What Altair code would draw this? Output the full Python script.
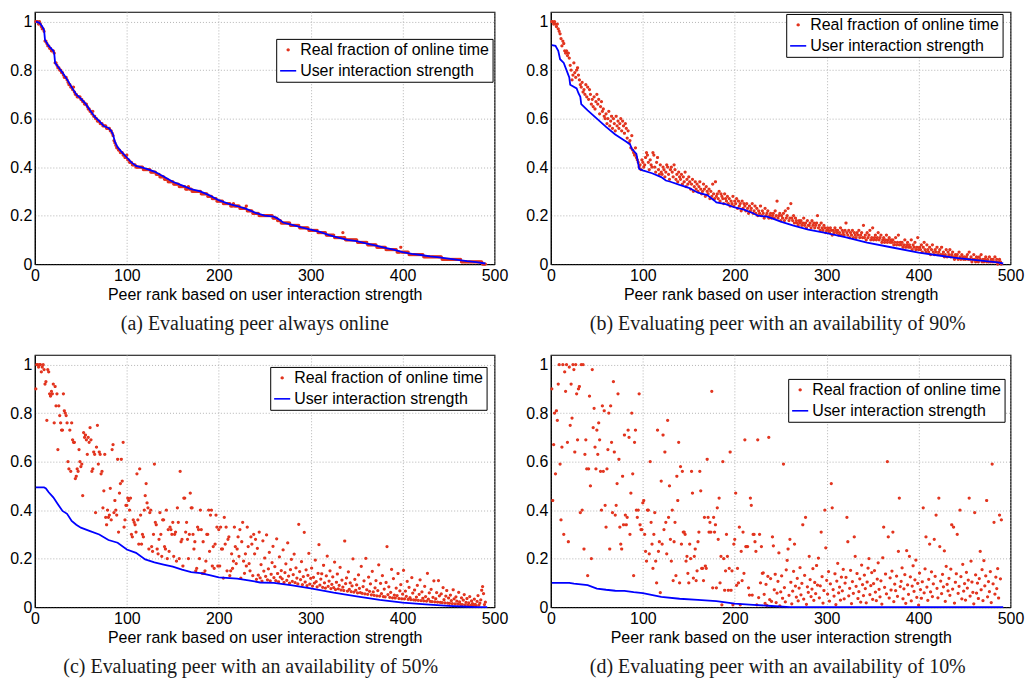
import altair as alt
import pandas as pd

# ---------------- data (values in hundredths for dots, thousandths for lines) ----------------
SERIES = ["Real fraction of online time", "User interaction strength"]
XTICKS = [0, 100, 200, 300, 400, 500]
YTICKS = [0, 0.2, 0.4, 0.6, 0.8, 1]

captions = [
    "(a)  Evaluating peer always online",
    "(b)  Evaluating peer with an availability of 90%",
    "(c)  Evaluating peer with an availability of 50%",
    "(d)  Evaluating peer with an availability of 10%",
]
xtitles = [
    "Peer rank based on user interaction strength",
    "Peer rank based on user interaction strength",
    "Peer rank based on user interaction strength",
    "Peer rank based on the user interaction strength",
]

# (a) always online
real_a = [
    100, 100, 100, 99, 100, 99, 98, 97, 97, 96,
    92, 92, 91, 90, 90, 89, 89, 88, 88, 88,
    87, 83, 83, 82, 81, 81, 80, 80, 79, 79,
    78, 77, 77, 77, 76, 75, 74, 74, 73, 73,
    72, 73, 71, 70, 70, 69, 69, 69, 69, 68,
    68, 67, 67, 66, 66, 66, 65, 64, 64, 63,
    63, 62, 63, 61, 61, 60, 60, 59, 59, 59,
    58, 58, 58, 57, 57, 57, 57, 56, 56, 56,
    56, 55, 55, 54, 53, 51, 50, 49, 48, 48,
    47, 47, 46, 46, 46, 45, 45, 44, 44, 45,
    43, 43, 42, 42, 42, 41, 41, 41, 41, 40,
    40, 40, 40, 40, 40, 40, 40, 39, 39, 39,
    39, 39, 39, 39, 39, 38, 38, 38, 38, 38,
    38, 37, 37, 37, 37, 36, 36, 36, 36, 36,
    35, 35, 35, 35, 34, 34, 34, 34, 34, 34,
    33, 33, 33, 33, 33, 33, 32, 32, 32, 32,
    32, 32, 32, 31, 31, 31, 32, 31, 31, 31,
    30, 30, 30, 30, 30, 30, 30, 30, 30, 30,
    29, 29, 29, 29, 29, 29, 29, 28, 28, 28,
    28, 28, 27, 27, 27, 27, 27, 26, 26, 26,
    26, 26, 26, 26, 25, 25, 25, 25, 25, 25,
    25, 25, 24, 24, 24, 25, 24, 24, 24, 24,
    24, 24, 23, 23, 23, 23, 23, 23, 23, 24,
    22, 22, 22, 22, 22, 22, 21, 21, 21, 21,
    21, 21, 21, 20, 20, 20, 20, 20, 20, 20,
    20, 20, 20, 20, 20, 20, 20, 20, 19, 19,
    19, 19, 19, 18, 18, 18, 18, 17, 17, 17,
    17, 17, 17, 17, 17, 17, 17, 16, 16, 16,
    16, 16, 16, 16, 16, 16, 16, 15, 15, 15,
    15, 15, 15, 15, 15, 15, 15, 14, 14, 14,
    14, 14, 14, 14, 14, 14, 14, 13, 13, 13,
    13, 13, 13, 13, 13, 13, 12, 12, 12, 12,
    12, 12, 12, 12, 12, 11, 11, 11, 11, 11,
    11, 11, 11, 11, 13, 11, 11, 10, 10, 10,
    10, 10, 10, 10, 10, 10, 10, 10, 10, 10,
    9, 9, 9, 9, 9, 9, 9, 9, 9, 9,
    9, 8, 8, 8, 8, 8, 8, 8, 8, 8,
    8, 7, 7, 7, 7, 7, 7, 7, 7, 7,
    7, 6, 6, 6, 6, 6, 6, 6, 6, 6,
    6, 6, 6, 5, 5, 5, 5, 7, 5, 5,
    5, 5, 5, 5, 5, 5, 4, 4, 4, 4,
    4, 4, 4, 4, 4, 4, 4, 4, 4, 4,
    4, 4, 3, 3, 3, 3, 3, 3, 3, 3,
    3, 3, 3, 3, 3, 3, 3, 3, 3, 3,
    3, 3, 2, 2, 2, 2, 2, 2, 2, 2,
    2, 2, 2, 2, 2, 2, 2, 2, 2, 2,
    2, 2, 2, 1, 1, 1, 1, 1, 1, 1,
    1, 1, 1, 1, 1, 1, 1, 1, 1, 1,
    1, 1, 1, 1, 1, 1, 0, 0, 0, 0,
]
line_a_rank = [1, 5, 8, 10, 11, 15, 20, 21, 22, 25, 30, 35, 40, 45, 50, 55, 60, 65, 70, 75,
               80, 83, 85, 87, 90, 95, 100, 105, 110, 120, 130, 140, 150, 160, 170, 180, 190,
               200, 210, 220, 230, 240, 250, 260, 265, 270, 280, 290, 300, 310, 320, 330, 340,
               350, 360, 370, 380, 390, 400, 410, 420, 430, 440, 450, 460, 470, 480, 490]
line_a_val = [1000, 995, 980, 965, 925, 900, 880, 870, 830, 815, 790, 762, 730, 700, 683, 662, 635,
              608, 590, 570, 562, 550, 535, 505, 482, 460, 440, 420, 405, 395, 382, 362, 340, 325,
              310, 300, 284, 264, 250, 240, 228, 212, 200, 196, 186, 172, 162, 152, 143, 133, 120,
              110, 100, 95, 86, 78, 68, 60, 50, 43, 38, 32, 28, 23, 18, 13, 9, 3]

# (b) availability 90%
real_b = [
    100, 100, 99, 100, 99, 98, 99, 97, 96, 95,
    93, 90, 92, 91, 88, 87, 88, 86, 87, 85,
    82, 80, 76, 78, 83, 79, 77, 80, 81, 78,
    76, 74, 73, 75, 71, 72, 70, 74, 69, 73,
    68, 72, 70, 66, 68, 65, 69, 64, 67, 70,
    66, 68, 62, 65, 67, 63, 64, 61, 60, 62,
    58, 60, 63, 57, 59, 61, 56, 60, 58, 55,
    61, 57, 59, 56, 58, 60, 55, 59, 57, 54,
    58, 56, 52, 55, 50, 51, 48, 53, 47, 46,
    45, 48, 44, 43, 42, 40, 41, 39, 43, 42,
    40, 41, 44, 46, 45, 42, 39, 43, 41, 40,
    46, 45, 40, 38, 42, 44, 39, 37, 41, 38,
    37, 40, 39, 36, 38, 41, 40, 37, 35, 39,
    40, 38, 36, 41, 39, 35, 37, 34, 38, 36,
    35, 37, 33, 36, 34, 38, 32, 35, 33, 36,
    34, 31, 33, 35, 30, 32, 34, 31, 33, 30,
    32, 34, 31, 29, 30, 33, 31, 28, 32, 30,
    29, 31, 27, 30, 28, 33, 29, 27, 34, 28,
    29, 27, 30, 26, 29, 28, 27, 25, 29, 27,
    26, 28, 25, 27, 24, 26, 25, 28, 24, 26,
    25, 27, 23, 26, 24, 25, 22, 26, 23, 25,
    24, 22, 25, 23, 21, 24, 22, 23, 25, 21,
    22, 24, 21, 23, 20, 22, 21, 24, 20, 22,
    21, 19, 23, 20, 21, 22, 19, 20, 21, 19,
    20, 21, 19, 22, 20, 26, 19, 20, 21, 18,
    20, 19, 21, 18, 22, 19, 20, 23, 18, 19,
    25, 19, 18, 20, 17, 19, 18, 17, 16, 18,
    17, 18, 16, 17, 19, 16, 17, 15, 18, 16,
    16, 17, 15, 18, 16, 17, 15, 16, 17, 20,
    15, 16, 14, 17, 15, 14, 16, 15, 13, 14,
    15, 14, 13, 15, 14, 12, 14, 13, 15, 14,
    13, 14, 12, 13, 15, 12, 14, 13, 12, 14,
    17, 13, 12, 14, 11, 13, 12, 14, 11, 13,
    12, 11, 13, 12, 14, 11, 12, 13, 11, 16,
    11, 12, 10, 13, 11, 12, 14, 10, 11, 15,
    10, 11, 12, 10, 11, 13, 10, 11, 12, 9,
    10, 11, 9, 10, 12, 9, 10, 11, 9, 10,
    9, 10, 8, 9, 11, 8, 9, 12, 8, 9,
    8, 9, 7, 8, 10, 7, 8, 9, 7, 8,
    7, 10, 6, 8, 7, 9, 6, 7, 11, 6,
    7, 6, 8, 5, 7, 9, 6, 5, 8, 6,
    5, 7, 4, 6, 8, 5, 4, 6, 5, 7,
    4, 5, 6, 4, 7, 4, 5, 3, 4, 6,
    3, 5, 4, 6, 3, 4, 5, 3, 2, 4,
    3, 4, 2, 5, 3, 2, 4, 3, 2, 3,
    2, 3, 4, 2, 5, 2, 3, 1, 2, 4,
    2, 1, 3, 2, 1, 3, 2, 4, 1, 2,
    1, 2, 3, 1, 2, 1, 3, 1, 2, 1,
    2, 1, 3, 1, 2, 0, 1, 2, 1, 0,
]
line_b_rank = [1, 5, 8, 10, 14, 18, 20, 21, 28, 30, 32, 33, 40, 50, 60, 70, 80, 86, 88, 93, 96,
               100, 110, 120, 125, 130, 140, 150, 160, 170, 178, 180, 190, 200, 210, 220, 225,
               235, 240, 250, 264, 280, 300, 320, 344, 370, 400, 420, 438, 460, 486, 492]
line_b_val = [903, 900, 880, 845, 830, 790, 770, 740, 725, 705, 690, 660, 634, 600, 566, 535, 510,
              495, 476, 455, 393, 387, 375, 359, 345, 340, 327, 315, 295, 285, 262, 255, 248, 234,
              225, 210, 200, 196, 190, 176, 159, 143, 128, 112, 89, 70, 48, 37, 27, 18, 8, 3]

# (c) availability 50%
real_c = [
    90, 100, 100, 99, 100, 100, 97, 99, 100, 98,
    92, 93, 77, 98, 97, 88, 87, 89, 88, 92,
    76, 91, 83, 88, 65, 83, 79, 76, 73, 73,
    88, 81, 80, 79, 76, 60, 57, 73, 56, 76,
    69, 68, 68, 53, 54, 57, 56, 65, 60, 58,
    59, 46, 72, 70, 71, 69, 63, 70, 68, 74,
    69, 56, 57, 64, 63, 39, 66, 75, 59, 64,
    63, 55, 56, 41, 48, 63, 37, 34, 40, 37,
    38, 49, 36, 65, 67, 39, 44, 40, 38, 61,
    31, 47, 51, 61, 52, 68, 33, 36, 42, 42,
    45, 44, 40, 45, 30, 29, 36, 35, 34, 31,
    55, 36, 26, 57, 38, 26, 30, 29, 40, 46,
    51, 43, 41, 24, 39, 40, 25, 23, 30, 59,
    35, 34, 24, 22, 28, 39, 30, 21, 36, 36,
    25, 24, 40, 20, 32, 23, 33, 32, 30, 35,
    21, 30, 31, 19, 41, 35, 20, 56, 27, 28,
    17, 45, 45, 31, 35, 28, 20, 30, 47, 41,
    41, 30, 24, 27, 15, 16, 33, 32, 20, 40,
    32, 14, 27, 14, 15, 19, 30, 30, 40, 23,
    38, 40, 17, 25, 16, 26, 38, 33, 17, 32,
    17, 33, 24, 24, 12, 37, 26, 33, 15, 28,
    29, 13, 15, 22, 16, 19, 33, 25, 18, 24,
    29, 21, 32, 12, 27, 35, 19, 14, 22, 17,
    33, 25, 18, 15, 29, 26, 13, 30, 22, 28,
    11.5, 24.3, 13.2, 31.0, 12.1, 17.6, 10.8, 27.4, 14.9, 20.3,
    12.7, 29.8, 11.3, 15.8, 22.6, 10.9, 13.6, 18.4, 25.1, 12.2,
    16.7, 11.0, 28.2, 13.9, 10.5, 20.8, 12.4, 15.1, 11.7, 23.6,
    10.2, 14.3, 17.9, 11.1, 26.5, 12.8, 9.9, 15.5, 19.7, 10.7,
    13.4, 21.9, 10.1, 16.2, 12.0, 9.6, 34.2, 14.7, 11.4, 18.8,
    9.3, 12.6, 30.9, 10.4, 15.4, 8.9, 13.1, 22.2, 9.5, 11.9,
    16.1, 8.7, 12.3, 9.9, 19.4, 10.6, 8.4, 14.0, 25.8, 9.1,
    11.6, 13.8, 8.2, 17.3, 10.0, 7.9, 12.9, 21.1, 8.6, 10.8,
    15.0, 7.7, 9.4, 12.5, 8.1, 18.6, 7.3, 10.3, 13.7, 7.6,
    9.0, 16.4, 7.1, 11.2, 8.3, 6.9, 27.3, 9.7, 12.1, 6.6,
    14.6, 7.4, 10.0, 6.4, 8.8, 19.9, 6.2, 11.5, 7.0, 9.2,
    5.9, 13.3, 7.8, 6.0, 16.8, 5.7, 8.5, 10.9, 5.5, 20.1,
    7.2, 5.3, 12.4, 6.5, 9.6, 5.1, 14.8, 6.3, 4.9, 8.0,
    11.0, 4.7, 6.8, 17.5, 4.6, 9.8, 5.6, 13.0, 4.4, 7.5,
    4.3, 10.2, 25.0, 5.2, 8.4, 4.1, 6.1, 15.6, 3.9, 11.8,
    5.0, 3.8, 7.9, 4.8, 13.9, 3.6, 6.7, 9.3, 3.5, 5.4,
    15.2, 3.4, 6.6, 4.5, 10.7, 3.2, 8.2, 4.0, 3.1, 12.2,
    5.8, 3.0, 7.1, 2.9, 4.2, 9.0, 2.8, 5.3, 11.3, 2.7,
    6.3, 3.7, 2.6, 8.6, 4.4, 2.5, 14.0, 3.3, 5.9, 2.4,
    7.4, 2.3, 4.1, 10.9, 2.2, 3.5, 6.0, 2.1, 11.0, 4.7,
    2.0, 5.5, 1.9, 8.1, 3.1, 1.8, 4.6, 6.9, 1.7, 3.8,
    1.6, 5.0, 2.7, 1.5, 7.2, 3.4, 1.4, 4.3, 2.5, 1.3,
    6.1, 2.2, 1.2, 3.9, 1.1, 2.9, 5.2, 1.0, 2.0, 3.6,
    0.9, 1.8, 4.4, 0.8, 2.6, 1.5, 0.7, 3.3, 1.2, 0.6,
    2.4, 4.8, 0.9, 1.7, 3.0, 7.0, 8.5, 5.6, 1.1, 2.1,
]
line_c_rank = [1, 10, 12, 15, 20, 25, 30, 35, 40, 45, 50, 60, 70, 80, 90, 100, 110, 120, 130,
               140, 150, 160, 170, 180, 190, 200, 220, 234, 245, 260, 280, 300, 325, 350, 375,
               400, 425, 450, 470, 480, 492]
line_c_val = [494, 494, 490, 474, 453, 425, 397, 385, 356, 340, 328, 314, 300, 277, 266, 238, 224,
              197, 185, 176, 167, 155, 145, 141, 132, 123, 118, 110, 102, 100, 90, 78, 60, 45, 30,
              19, 12, 6, 2, 0, 0]

# (d) availability 10%
real_d = [
    90, 44, 67, 80, 55, 81, 77, 92, 100, 59,
    36, 66, 100, 30, 97, 89, 100, 68, 27, 99,
    75, 92, 78, 100, 98, 64, 100, 88, 69, 90,
    91, 39, 100, 40, 100, 24, 63, 69, 57, 13,
    57, 87, 50, 20, 98, 74, 82, 66, 57, 73,
    63, 76, 69, 56, 40, 83, 56, 81, 42, 33,
    57, 65, 80, 24, 83, 68, 39, 93, 64, 38,
    42, 51, 88, 61, 33, 26, 24, 54, 34, 71,
    38, 34, 37, 73, 70, 30, 47, 80, 55, 13,
    68, 73, 40, 37, 40, 88, 34, 32, 32, 43,
    44, 30, 23, 19, 40, 40, 22, 60, 35, 26,
    16, 30, 39, 19, 10, 73, 23, 27, 6, 52,
    26, 71, 32, 64, 35, 22, 77, 37, 50, 28,
    19, 40, 11, 27, 35, 13, 54, 44, 68, 10,
    58, 26, 56, 31, 31, 30, 19, 21, 14, 10,
    26, 20, 56, 47, 12, 21, 24, 11, 15, 27,
    31, 56, 48, 16, 16, 11, 37, 17, 16, 61,
    37, 31, 35, 31, 89, 8, 37, 31, 34, 8,
    41, 28, 45, 10, 21, 1, 60, 20, 7, 15,
    30, 21, 7, 16, 64, 7, 15, 1, 26, 28,
    47, 9, 16, 10, 33, 1, 23, 11, 31, 14,
    69, 25, 25, 25, 8, 5, 45, 42, 5, 30,
    30, 27, 23, 1, 69, 4, 30, 10, 25, 14,
    14.2, 5.3, 1.6, 9.4, 0.8, 12.7, 70, 3.1, 11.8, 2.4,
    29, 25.3, 7.2, 13.6, 1.9, 5.8, 10.7, 22.4, 0.6, 6.3,
    12.9, 3.7, 59, 8.1, 2.2, 15.4, 19.3, 24, 4.9, 28,
    10.3, 1.4, 6.6, 14.8, 26, 8.7, 4.2, 11.9, 2.6, 7.9,
    16.3, 5.1, 9.8, 34, 3.3, 13.1, 37, 1.2, 8.4, 6.1,
    21, 11.4, 4.4, 7.5, 15.9, 2.8, 10.2, 5.6, 17.2, 9.1,
    20.2, 3.9, 8.8, 31, 12.6, 1.7, 6.9, 40, 24.5, 11.1,
    5.4, 14.7, 2.5, 9.6, 51, 41, 7.3, 4.6, 13.8, 1.1,
    10.8, 18.1, 5.9, 8.3, 2.9, 12.4, 6.7, 15.6, 3.4, 9.9,
    12.3, 37, 27, 4.7, 7.8, 15.2, 1.5, 10.6, 5.7, 29,
    21, 8.6, 13.9, 3.6, 6.4, 11.7, 2.1, 17.4, 9.3, 4.8,
    13.2, 7.7, 1.8, 10.4, 16.1, 20, 5.2, 8.9, 14.3, 3.2,
    9.7, 15.1, 6.2, 2.7, 11.6, 18.3, 7.4, 4.3, 10.9, 1.3,
    20.4, 33, 8.2, 13.7, 5.5, 60, 29, 3.8, 12.1, 7.1,
    14.9, 31, 2.3, 9.5, 6.8, 12.8, 4.5, 23, 45, 8.5,
    10.7, 16.2, 3.5, 7.6, 13.4, 1.6, 23.3, 9.2, 5.3, 21,
    12.5, 2.6, 8.7, 17.1, 6.5, 11.3, 19.4, 4.1, 9.8, 0.9,
    14.1, 7.3, 3.7, 10.5, 41, 5.9, 15.8, 29, 8.3, 2.8,
    11.5, 26, 6.3, 14.6, 4.4, 9.6, 28, 12.7, 38, 7.8,
    3.9, 45, 25, 10.8, 5.6, 13.5, 8.4, 23.2, 2.4, 16.8,
    9.4, 6.7, 11.9, 4.9, 15.7, 34, 7.5, 33, 1.7, 10.3,
    13.8, 30, 5.7, 8.6, 40, 12.6, 3.4, 17.7, 6.6, 9.7,
    2.9, 14.4, 7.9, 11.2, 45, 4.6, 19, 10.4, 6.1, 1.4,
    39, 13.3, 5.8, 9.9, 3.6, 11.8, 23, 7.2, 15.5, 2.7,
    19.2, 8.8, 12.9, 44, 4.3, 10.6, 6.4, 14.7, 1.9, 59,
    9.6, 35, 5.4, 12.4, 7.7, 15.9, 3.8, 38, 11.7, 36,
]
line_d_rank = [1, 20, 25, 40, 50, 60, 70, 80, 90, 100, 120, 140, 160, 180, 200, 220, 240, 260, 492]
line_d_val = [100, 100, 97, 91, 77, 72, 68, 67, 62, 58, 43, 35, 30, 25, 15, 10, 5, 0, 0]

# legend box position inside each plot (x, y from plot's top-left corner)
legend_xy = [(242, 27), (236, 2), (236, 12), (238, 24)]
caption_dx = [-10, -3, -14, -3]

RED = "#e2321c"
BLUE = "#0000ff"
FONT = "Liberation Sans"


def panel(real, lrank, lval, xtitle, caption, lxy, cdx):
    pts = pd.DataFrame({
        "rank": list(range(1, len(real) + 1)),
        "value": [v / 100 for v in real],
        "series": SERIES[0],
    })
    ln = pd.DataFrame({"rank": lrank, "value": [v / 1000 for v in lval]})
    xenc = alt.X("rank:Q", scale=alt.Scale(domain=[0, 500], nice=False, zero=False),
                 axis=alt.Axis(values=XTICKS, title=xtitle, format="d"))
    yenc = alt.Y("value:Q", scale=alt.Scale(domain=[0, 1.04], nice=False),
                 axis=alt.Axis(values=YTICKS, title=None, format="~g"))
    leg = alt.Legend(title=None, orient="none", legendX=lxy[0], legendY=lxy[1],
                     strokeColor="black", fillColor="white", padding=3, rowPadding=4,
                     labelFont=FONT, labelFontSize=16, labelColor="black", labelOffset=3,
                     symbolStrokeWidth=1.6, symbolOpacity=1, labelLimit=400, cornerRadius=0)
    points = alt.Chart(pts).mark_point(filled=False, opacity=1, strokeWidth=1.5).encode(
        x=xenc,
        y=yenc,
        color=alt.Color("series:N", scale=alt.Scale(domain=SERIES, range=[RED, BLUE]), legend=leg),
        shape=alt.Shape("series:N", scale=alt.Scale(domain=SERIES, range=["circle", "stroke"]), legend=leg),
        size=alt.Size("series:N", scale=alt.Scale(domain=SERIES, range=[3, 260]), legend=leg),
    )
    line = alt.Chart(ln).mark_line(color=BLUE, strokeWidth=1.8).encode(x=xenc, y=yenc)
    return alt.layer(points, line).properties(
        width=461, height=253,
        title=alt.TitleParams(text=caption, orient="bottom", anchor="middle", font="Liberation Serif",
                              fontSize=20, fontWeight="normal", color="#1a1a1a", offset=12, dx=cdx),
    )


pa = panel(real_a, line_a_rank, line_a_val, xtitles[0], captions[0], legend_xy[0], caption_dx[0])
pb = panel(real_b, line_b_rank, line_b_val, xtitles[1], captions[1], legend_xy[1], caption_dx[1])
pc = panel(real_c, line_c_rank, line_c_val, xtitles[2], captions[2], legend_xy[2], caption_dx[2])
pd_ = panel(real_d, line_d_rank, line_d_val, xtitles[3], captions[3], legend_xy[3], caption_dx[3])

chart = alt.concat(
    pa, pb, pc, pd_, columns=2, spacing={"row": 91, "column": 56.5}, bounds="flush"
).resolve_scale(
    color="independent", shape="independent", size="independent"
).resolve_legend(
    color="independent", shape="independent", size="independent"
).properties(
    padding={"left": 9, "top": 10, "right": 5, "bottom": 5},
    background="white",
).configure_axis(
    labelFont=FONT, labelFontSize=16, labelColor="black",
    titleFont=FONT, titleFontSize=16, titleFontWeight="normal", titleColor="black",
    domainColor="black", domainWidth=1, grid=True, gridColor="#b4b4b4", gridDash=[1, 2], gridWidth=1,
    ticks=False, labelPadding=3, titlePadding=3, labelFlush=False,
).configure_view(stroke="black", strokeWidth=1.2)

chart.save("out.html", embed_options={"renderer": "svg", "actions": False})
